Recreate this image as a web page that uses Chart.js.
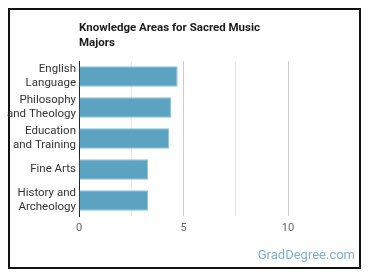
<!DOCTYPE html>
<html>
<head>
<meta charset="utf-8">
<script src="https://cdn.jsdelivr.net/npm/chart.js@4/dist/chart.umd.min.js"></script>
<style>
  html, body { margin: 0; padding: 0; background: #fff; }
  #wrap { position: relative; width: 370px; height: 278px; }
  #frame { position: absolute; left: 8px; top: 8px; width: 349px; height: 257px; border: 2px solid #111; }
  canvas { position: absolute; left: 0; top: 0; }
</style>
</head>
<body>
<div id="wrap">
  <div id="frame"></div>
  <canvas id="chart" width="370" height="278"></canvas>
</div>
<script>
const categories = [
  ["English", "Language"],
  ["Philosophy", "and Theology"],
  ["Education", "and Training"],
  "Fine Arts",
  ["History and", "Archeology"],
];
const scores = [4.72, 4.42, 4.32, 3.31, 3.31];
const titleLines = ["Knowledge Areas for Sacred Music", "Majors"];
const watermark = "GradDegree.com";

const FONT = "Roboto, 'Noto Sans', sans-serif";

const overlay = {
  id: "overlay",
  afterDraw(chart) {
    const ctx = chart.ctx;
    const left = chart.chartArea.left;
    ctx.save();
    ctx.fillStyle = "#1a1a1a";
    ctx.font = "bold 11.5px " + FONT;
    ctx.textBaseline = "middle";
    ctx.textAlign = "left";
    titleLines.forEach((t, i) => ctx.fillText(t, left, 28 + i * 15));
    ctx.fillStyle = "#7fb0cc";
    ctx.font = "13px " + FONT;
    ctx.textAlign = "right";
    ctx.fillText(watermark, 355, 256);
    ctx.restore();
  },
};

new Chart(document.getElementById("chart"), {
  type: "bar",
  data: {
    labels: categories,
    datasets: [{
      data: scores,
      backgroundColor: "#5ba3c1",
      borderColor: "#8ac0d6",
      borderWidth: 1,
      barPercentage: 0.66,
      categoryPercentage: 1,
    }],
  },
  options: {
    indexAxis: "y",
    responsive: false,
    animation: false,
    layout: { padding: { top: 61, right: 82, left: 0, bottom: 0 } },
    plugins: { legend: { display: false }, tooltip: { enabled: false } },
    scales: {
      x: {
        min: 0,
        max: 10,
        ticks: {
          stepSize: 2.5,
          color: "#666",
          font: { family: FONT, size: 11 },
          padding: 6,
          callback: (v) => (v % 5 === 0 ? v : ""),
        },
        grid: {
          drawTicks: false,
          color: (c) => (c.tick && c.tick.value % 5 === 0 ? "#cccccc" : "#e8e8e8"),
        },
        border: { display: false },
        afterFit(s) { s.height = 62; },
      },
      y: {
        ticks: {
          autoSkip: false,
          color: "#333",
          font: { family: FONT, size: 11.5, lineHeight: 1.2 },
          padding: 3,
        },
        grid: { display: false, drawTicks: false },
        border: { display: true, color: "#222", width: 1 },
        afterFit(s) { s.width = 79; },
      },
    },
  },
  plugins: [overlay],
});
</script>
</body>
</html>
